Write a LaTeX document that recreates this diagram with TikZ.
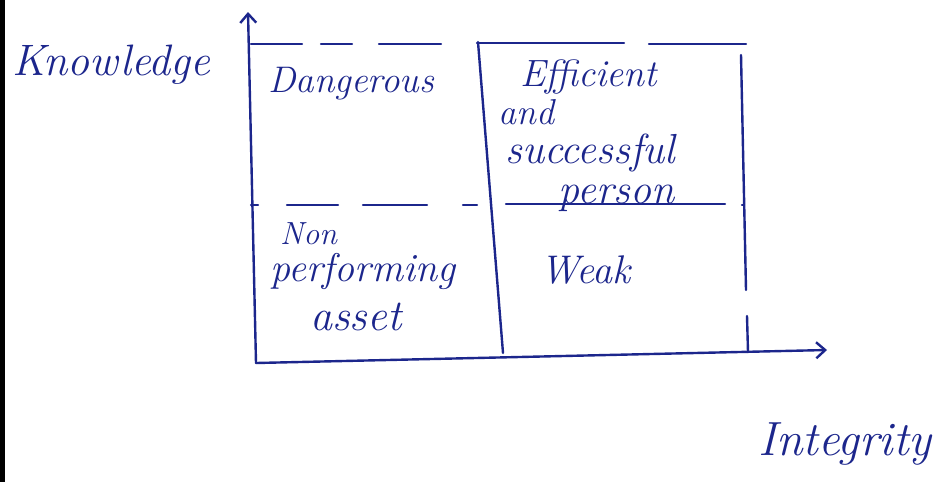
\documentclass[tikz,border=0pt]{standalone}
\usetikzlibrary{arrows.meta}
\definecolor{ink}{RGB}{28,38,140}
\begin{document}
\begin{tikzpicture}[x=1pt,y=-1pt,
  inkline/.style={draw=ink,line width=2.4pt,line cap=round},
  axis/.style={inkline,-{Straight Barb[length=9pt,width=16pt,line width=2.4pt]}},
  hw/.style={text=ink,font=\fontsize{#1}{#1}\selectfont\itshape,inner sep=0pt,anchor=base west}]
\useasboundingbox (0,0) rectangle (949,482);
\fill[black] (0,0) rectangle (5,482);
% axes
\coordinate (O) at (256,363);
\coordinate (ytip) at (248,12);
\coordinate (xtip) at (827,350);
\draw[axis] (O) -- (ytip);
\draw[axis] (O) -- (xtip);
% top line (broken)
\draw[inkline] (251,44) -- (302,44) (321,44) -- (352,44) (379,44) -- (441,44)
  (477,43) -- (624,43) (649,44) -- (746,44);
% middle vertical
\coordinate (mt) at (478,42);
\coordinate (mb) at (503,353);
\draw[inkline] (mt) -- (mb);
% right vertical
\draw[inkline] (741,55) -- (746,290) (747,316) -- (748,352);
% middle dashed horizontal
\draw[inkline] (251,205) -- (258,205) (287,205) -- (338,205) (363,205) -- (427,205)
  (463,205) -- (477,205) (506,204) -- (725,204) (742,205) -- (743,205);
% texts
\node[hw=44] (know) at (12,75) {Knowledge};
\node[hw=37] (dang) at (268,92) {Dangerous};
\node[hw=38] (eff1) at (520,86) {Efficient};
\node[hw=36] (eff2) at (498,124) {and};
\node[hw=42] (eff3) at (505,163) {successful};
\node[hw=42] (eff4) at (558,203) {person};
\node[hw=32] (non1) at (280,244) {Non};
\node[hw=40] (non2) at (270,281) {performing};
\node[hw=44] (non3) at (310,330) {asset};
\node[hw=40] (weak) at (540,283) {Weak};
\node[hw=48] (integ) at (758,455) {Integrity};
\end{tikzpicture}
\end{document}
